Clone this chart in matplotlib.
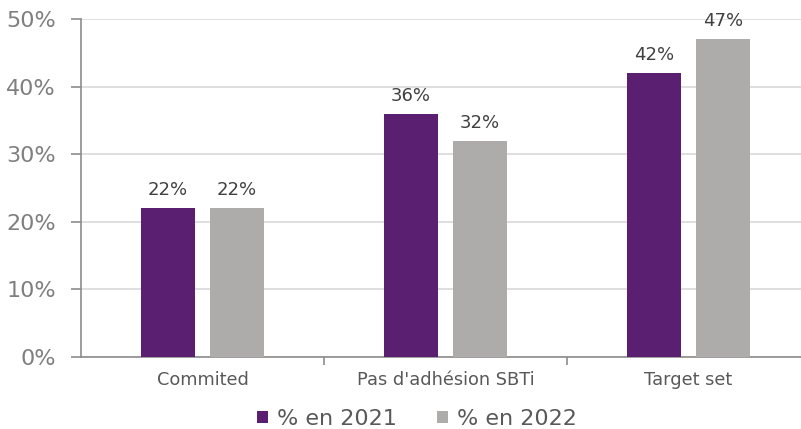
import matplotlib.pyplot as plt
import numpy as np

categories = ['Commited', "Pas d'adhésion SBTi", 'Target set']
pct_2021 = [22, 36, 42]
pct_2022 = [22, 32, 47]
series_labels = ['% en 2021', '% en 2022']

color_2021 = '#5B1F72'
color_2022 = '#AEABAB'
grid_color = '#D9D9D9'
axis_color = '#8C8C8C'

fig = plt.figure(figsize=(8.01, 4.29), dpi=100)
ax = fig.add_axes([81/801, 1-357/429, 729/801, 338/429])

x = np.arange(len(categories))
w = 0.222
off = 0.142
b1 = ax.bar(x - off, pct_2021, w, color=color_2021, label=series_labels[0], zorder=3)
b2 = ax.bar(x + off, pct_2022, w, color=color_2022, label=series_labels[1], zorder=3)

for bars, vals in [(b1, pct_2021), (b2, pct_2022)]:
    for r, v in zip(bars, vals):
        ax.text(r.get_x() + r.get_width()/2, v + 1.3, f'{v}%', ha='center', va='bottom',
                fontsize=13, color='#404040')

ax.set_xlim(-0.5, 2.5)
ax.set_ylim(0, 50)
ax.set_yticks(range(0, 51, 10))
ax.set_yticklabels([f'{t}%' for t in range(0, 51, 10)], fontsize=16, color='#7F7F7F')
ax.yaxis.grid(True, color=grid_color, linewidth=1.2, zorder=0)
ax.set_axisbelow(True)

ax.set_xticks(x)
ax.set_xticklabels(categories, fontsize=12.8, color='#595959')
ax.tick_params(axis='x', length=0, pad=10)
ax.set_xticks([0.5, 1.5], minor=True)
ax.tick_params(axis='x', which='minor', length=6, color=axis_color, width=1.2)
ax.tick_params(axis='y', length=7, color=axis_color, width=1.2, pad=11)

for s in ['top', 'right']:
    ax.spines[s].set_visible(False)
ax.spines['left'].set_color(axis_color)
ax.spines['bottom'].set_color(axis_color)
ax.spines['left'].set_linewidth(1.2)
ax.spines['bottom'].set_linewidth(1.2)

fig.legend(handles=[b1, b2], labels=series_labels, loc='center', bbox_to_anchor=(417/801, 1-419/429),
           ncol=2, frameon=False, fontsize=16, handlelength=0.5, handleheight=0.5,
           handletextpad=0.4, columnspacing=1.8, labelcolor='#595959')

fig.savefig('out.png', dpi=100)
